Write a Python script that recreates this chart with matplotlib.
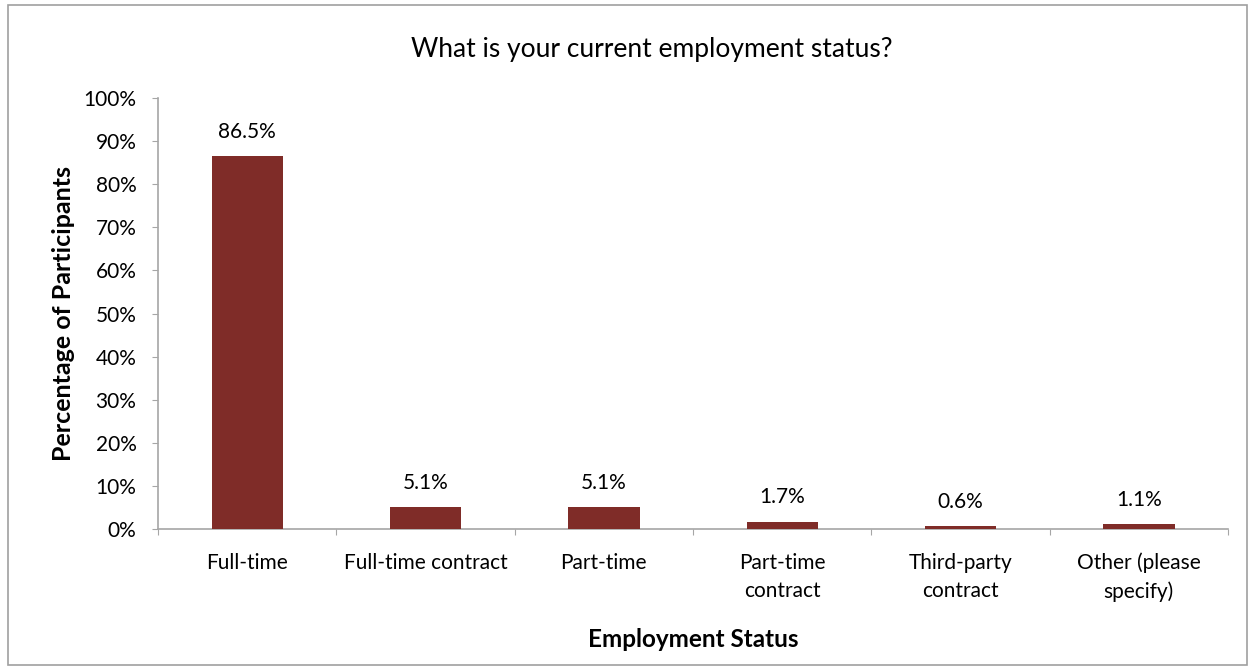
import matplotlib.pyplot as plt
from matplotlib.patches import Rectangle
from matplotlib.ticker import FuncFormatter

plt.rcParams['font.family'] = ['Lato', 'DejaVu Sans']

# survey results
categories = ['Full-time', 'Full-time contract', 'Part-time',
              'Part-time\ncontract', 'Third-party\ncontract', 'Other (please\nspecify)']
percentages = [86.5, 5.1, 5.1, 1.7, 0.6, 1.1]

bar_color = '#7F2C28'
axis_color = '#A6A6A6'

fig = plt.figure(figsize=(12.55, 6.7), dpi=100)
ax = fig.add_axes([0.1259, 0.2104, 0.8526, 0.6433])

# chart border
fig.patches.append(Rectangle((0.0064, 0.0075), 0.987, 0.985, transform=fig.transFigure,
                             fill=False, edgecolor='#A0A0A0', linewidth=1.2))

x = range(len(categories))
ax.bar(x, percentages, width=0.4, color=bar_color, zorder=3)
for xi, v in zip(x, percentages):
    ax.text(xi, v + 4.3, f'{v:.1f}%', ha='center', va='baseline', fontsize=15)

ax.set_xlim(-0.5, len(categories) - 0.5)
ax.set_ylim(0, 100)
ax.set_yticks(range(0, 101, 10))
ax.yaxis.set_major_formatter(FuncFormatter(lambda v, _: f'{v:.0f}%'))

# boundary ticks between categories, labels centred under bars
ax.set_xticks([i - 0.5 for i in range(len(categories) + 1)])
ax.set_xticklabels([])
ax.set_xticks(list(x), minor=True)
ax.set_xticklabels(categories, minor=True, fontsize=15, linespacing=1.5)
ax.tick_params(axis='x', which='minor', length=0, pad=17)
ax.tick_params(axis='x', which='major', length=4.5, direction='out', color=axis_color)
ax.tick_params(axis='y', length=4.5, direction='out', color=axis_color, labelsize=15, pad=11)

for side in ['top', 'right']:
    ax.spines[side].set_visible(False)
for side in ['left', 'bottom']:
    ax.spines[side].set_color(axis_color)
    ax.spines[side].set_linewidth(1.2)

fig.text(0.519, 1 - 57 / 670, 'What is your current employment status?',
         ha='center', va='baseline', fontsize=19)
ax.set_ylabel('Percentage of Participants', fontsize=18, fontweight='bold')
ax.yaxis.set_label_coords(-0.0776, 0.5)
ax.set_xlabel('Employment Status', fontsize=17.5, fontweight='bold')
ax.xaxis.set_label_coords(0.5, -0.2297)

fig.savefig('out.png', dpi=100)
